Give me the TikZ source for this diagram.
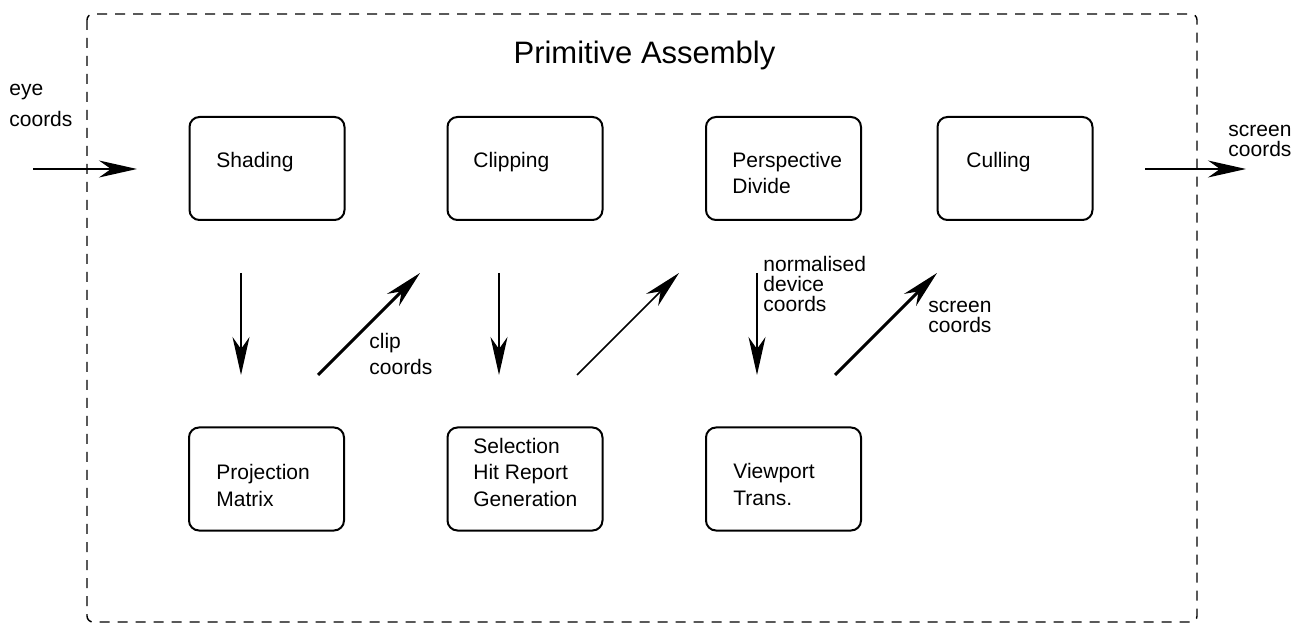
\documentclass[tikz,border=0pt]{standalone}
\usepackage{fontspec}
\setmainfont{Liberation Sans}
\usetikzlibrary{arrows.meta}

\tikzset{
	blk/.style={draw, line width=1pt, rounded corners=5pt, minimum width=77.5pt, minimum height=51.5pt, inner sep=0pt},
	txt/.style={anchor=base west, inner sep=0pt, align=left, font=\fontsize{10.5}{13.25}\selectfont},
	note/.style={anchor=base west, inner sep=0pt, align=left, font=\fontsize{10.5}{10}\selectfont},
	flow/.style={line width=0.75pt, -{Stealth[length=19pt, width=8.5pt, inset=6pt]}},
	bold flow/.style={flow, line width=1.5pt},
}

\begin{document}
\begin{tikzpicture}[x=0.5pt, y=-0.5pt]
		\useasboundingbox (0,0) rectangle (1301,630);
		\draw[line width=0.7pt, dash pattern=on 5pt off 4pt, rounded corners=3pt] (87,14) rectangle (1197,622);

		\node[anchor=base, inner sep=0pt, font=\fontsize{15.5}{18}\selectfont] (title) at (644.5,64) {Primitive Assembly};

		\node[blk] (shading) at (267,168.5) {};
		\node[blk] (clipping) at (525,168.5) {};
		\node[blk] (perspective) at (783.5,168.5) {};
		\node[blk] (culling) at (1015,168.5) {};
		\node[blk] (projection) at (266.5,479) {};
		\node[blk] (selection) at (525,479) {};
		\node[blk] (viewport) at (783.5,479) {};

		\node[txt] (shading-t) at (216,168) {Shading};
		\node[txt] (clipping-t) at (473,168) {Clipping};
		\node[txt] (perspective-t) at (732,194) {Perspective\\Divide};
		\node[txt] (culling-t) at (966,168) {Culling};
		\node[txt] (projection-t) at (216,506) {Projection\\Matrix};
		\node[txt] (selection-t) at (473,506) {Selection\\Hit Report\\Generation};
		\node[txt] (viewport-t) at (733,505) {Viewport\\Trans.};

		\node[txt, font=\fontsize{10.5}{15.5}\selectfont] (eye) at (9,127) {eye\\coords};
		\node[txt] (clip) at (369,375) {clip\\coords};
		\node[note] (ndc) at (763,312) {normalised\\device\\coords};
		\node[note] (screen) at (928,333) {screen\\coords};
		\node[note] (screen-out) at (1228,157) {screen\\coords};

		\coordinate (in) at (33,169);
		\coordinate (in-end) at (137,169);
		\coordinate (out) at (1145,169);
		\coordinate (out-end) at (1246,169);
		\draw[flow] (in) -- (in-end);
		\draw[flow] (out) -- (out-end);

		\foreach \n/\x in {1/241, 2/499, 3/757} {
				\coordinate (d\n-top) at (\x,273);
				\coordinate (d\n-bot) at (\x,375);
				\draw[flow] (d\n-top) -- (d\n-bot);
			}
		\foreach \n/\x/\s in {1/318/bold flow, 2/577/flow, 3/835/bold flow} {
				\coordinate (u\n-bot) at (\x,375);
				\coordinate (u\n-top) at ({\x+102},273);
				\draw[\s] (u\n-bot) -- (u\n-top);
			}
	\end{tikzpicture}
\end{document}
